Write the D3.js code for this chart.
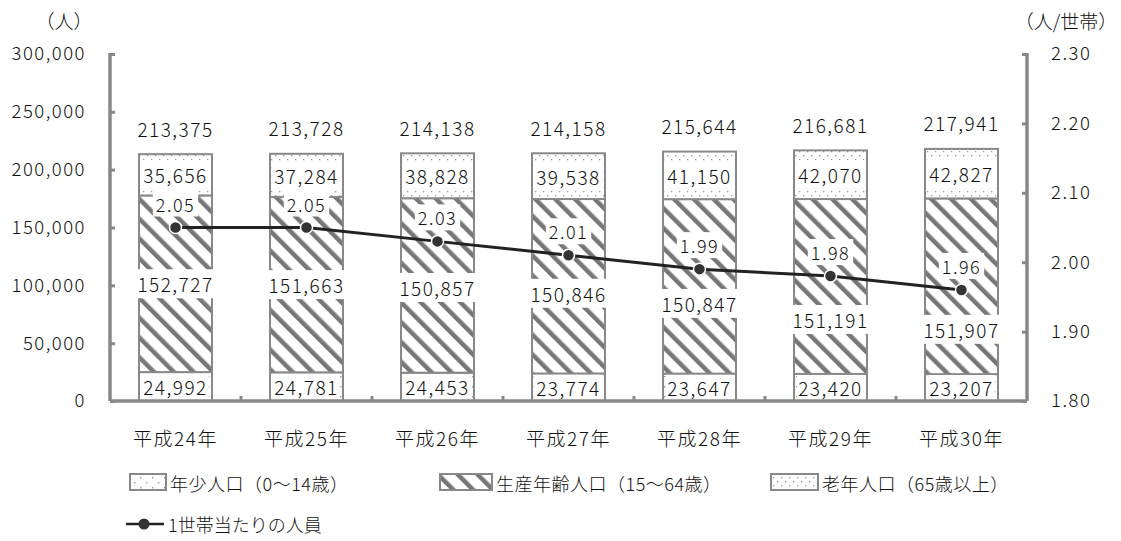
<!DOCTYPE html>
<html>
<head>
<meta charset="utf-8">
<script src="https://cdn.jsdelivr.net/npm/d3@7"></script>
<style>
  body { margin: 0; background: #fff; }
  text { font-family: "Noto Sans CJK JP", "Noto Sans", sans-serif; font-weight: 300; fill: #111; }
</style>
</head>
<body>
<div class="chart"></div>
<script>
// data
var years = ["平成24年", "平成25年", "平成26年", "平成27年", "平成28年", "平成29年", "平成30年"];
var young = [24992, 24781, 24453, 23774, 23647, 23420, 23207];
var working = [152727, 151663, 150857, 150846, 150847, 151191, 151907];
var elderly = [35656, 37284, 38828, 39538, 41150, 42070, 42827];
var totals = [213375, 213728, 214138, 214158, 215644, 216681, 217941];
var perHousehold = [2.05, 2.05, 2.03, 2.01, 1.99, 1.98, 1.96];
var leftTicks = [0, 50000, 100000, 150000, 200000, 250000, 300000];
var rightTicks = [1.8, 1.9, 2.0, 2.1, 2.2, 2.3];

// nudges for the working-age labels so they dodge the line labels
var workLabelShift = [0, 0, 2, 7, 17, 33, 43];

var svgWidth = 1121, svgHeight = 541;
var margin = {top: 54, left: 110, right: 94, bottom: 140};
var width = svgWidth - margin.left - margin.right;
var height = svgHeight - margin.top - margin.bottom;

var svg = d3.select(".chart").append("svg")
    .attr("width", svgWidth)
    .attr("height", svgHeight);

// patterns
var defs = svg.append("defs");

var pYoung = defs.append("pattern").attr("id", "pYoung")
    .attr("patternUnits", "userSpaceOnUse").attr("width", 12).attr("height", 10);
pYoung.append("rect").attr("width", 12).attr("height", 10).attr("fill", "#fff");
pYoung.append("rect").attr("x", 2).attr("y", 2).attr("width", 1.4).attr("height", 1.4).attr("fill", "#999");
pYoung.append("rect").attr("x", 8).attr("y", 7).attr("width", 1.4).attr("height", 1.4).attr("fill", "#999");

var pOld = defs.append("pattern").attr("id", "pOld")
    .attr("patternUnits", "userSpaceOnUse").attr("width", 8).attr("height", 8);
pOld.append("rect").attr("width", 8).attr("height", 8).attr("fill", "#fff");
pOld.append("rect").attr("x", 1).attr("y", 1).attr("width", 1.3).attr("height", 1.3).attr("fill", "#999");
pOld.append("rect").attr("x", 5).attr("y", 5).attr("width", 1.3).attr("height", 1.3).attr("fill", "#999");

var pWork = defs.append("pattern").attr("id", "pWork")
    .attr("patternUnits", "userSpaceOnUse").attr("width", 14).attr("height", 14)
    .attr("patternTransform", "rotate(-45)");
pWork.append("rect").attr("width", 14).attr("height", 14).attr("fill", "#fff");
pWork.append("rect").attr("x", 0).attr("y", 0).attr("width", 4.5).attr("height", 14).attr("fill", "#777");

var g = svg.append("g").attr("transform", `translate(${margin.left}, ${margin.top})`);

// scales
var x = d3.scaleBand().domain(years).range([0, width]).paddingInner(0.443).paddingOuter(0.2215);
var y = d3.scaleLinear().domain([0, 300000]).range([height, 0]);
var y2 = d3.scaleLinear().domain([1.8, 2.3]).range([height, 0]);

var fmt = d3.format(",");
var axisColor = "#888";

// stacked bars
var rows = years.map(function(yr, i) {
    return {year: yr, young: young[i], working: working[i], elderly: elderly[i]};
});
var stack = d3.stack().keys(["young", "working", "elderly"])(rows);
var fills = {young: "url(#pYoung)", working: "url(#pWork)", elderly: "url(#pOld)"};

stack.forEach(function(layer) {
    g.append("g").selectAll("rect")
        .data(layer)
        .enter()
        .append("rect")
        .attr("x", d => x(d.data.year))
        .attr("y", d => y(d[1]))
        .attr("width", x.bandwidth())
        .attr("height", d => y(d[0]) - y(d[1]))
        .attr("fill", fills[layer.key])
        .attr("stroke", axisColor)
        .attr("stroke-width", 2);
});

// label helper with white box
function boxedLabel(parent, cx, cy, txt, size, padX, padY) {
    var t = parent.append("text")
        .attr("x", cx).attr("y", cy)
        .attr("text-anchor", "middle")
        .attr("dominant-baseline", "central")
        .style("font-size", size + "px")
        .style("letter-spacing", "1.5px")
        .text(txt);
    var bb = t.node().getBBox();
    parent.insert("rect", "text:last-of-type")
        .attr("x", bb.x - padX).attr("y", bb.y - padY)
        .attr("width", bb.width + padX * 2).attr("height", bb.height + padY * 2)
        .attr("fill", "#fff");
    return t;
}

var labels = g.append("g");
years.forEach(function(yr, i) {
    var cx = x(yr) + x.bandwidth() / 2;
    var lg = labels.append("g");
    boxedLabel(lg, cx, (y(0) + y(young[i])) / 2, fmt(young[i]), 19, 1, -1);
    var lg2 = labels.append("g");
    boxedLabel(lg2, cx, (y(young[i]) + y(young[i] + working[i])) / 2 + workLabelShift[i], fmt(working[i]), 19, 3, 1);
    var lg3 = labels.append("g");
    boxedLabel(lg3, cx, (y(young[i] + working[i]) + y(totals[i])) / 2, fmt(elderly[i]), 19, 3, 1);
    labels.append("text")
        .attr("x", cx).attr("y", y(totals[i]) - 26)
        .attr("text-anchor", "middle")
        .attr("dominant-baseline", "central")
        .style("font-size", "19px")
        .style("letter-spacing", "1.5px")
        .text(fmt(totals[i]));
});

// line
var line = d3.line()
    .x((d, i) => x(years[i]) + x.bandwidth() / 2)
    .y(d => y2(d));

g.append("path")
    .datum(perHousehold)
    .attr("d", line)
    .attr("fill", "none")
    .attr("stroke", "#222")
    .attr("stroke-width", 3);

g.selectAll(".dot")
    .data(perHousehold)
    .enter()
    .append("circle")
    .attr("class", "dot")
    .attr("cx", (d, i) => x(years[i]) + x.bandwidth() / 2)
    .attr("cy", d => y2(d))
    .attr("r", 6)
    .attr("fill", "#333")
    .attr("stroke", "#fff")
    .attr("stroke-width", 1.5);

perHousehold.forEach(function(v, i) {
    var lg = g.append("g");
    boxedLabel(lg, x(years[i]) + x.bandwidth() / 2, y2(v) - 24, v.toFixed(2), 18, 3, 0);
});

// axes
var leftAxis = d3.axisLeft(y).tickValues(leftTicks).tickFormat(fmt).tickSize(-5).tickPadding(24);
var rightAxis = d3.axisRight(y2).tickValues(rightTicks).tickFormat(d3.format(".2f")).tickSize(-5).tickPadding(24);

var gl = g.append("g").call(leftAxis);
var gr = g.append("g").attr("transform", `translate(${width}, 0)`).call(rightAxis);
[gl, gr].forEach(function(ax) {
    ax.select(".domain").remove();
    ax.selectAll("line").attr("stroke", axisColor).attr("stroke-width", 3);
    ax.selectAll("text").style("font-size", "18.5px").style("letter-spacing", "1.5px").attr("fill", "#111");
});
gl.append("line").attr("x1", 0).attr("x2", 0).attr("y1", -1).attr("y2", height).attr("stroke", axisColor).attr("stroke-width", 3.5);
gr.append("line").attr("x1", 0).attr("x2", 0).attr("y1", -1).attr("y2", height).attr("stroke", axisColor).attr("stroke-width", 3.5);

// x axis baseline with ticks between categories
g.append("line")
    .attr("x1", 0).attr("x2", width)
    .attr("y1", height).attr("y2", height)
    .attr("stroke", axisColor).attr("stroke-width", 3.5);
g.selectAll(".xtick")
    .data(years.slice(1))
    .enter()
    .append("line")
    .attr("x1", d => x(d) - x.step() * x.paddingInner() / 2)
    .attr("x2", d => x(d) - x.step() * x.paddingInner() / 2)
    .attr("y1", height).attr("y2", height - 5)
    .attr("stroke", axisColor).attr("stroke-width", 3);

g.selectAll(".xlabel")
    .data(years)
    .enter()
    .append("text")
    .attr("x", d => x(d) + x.bandwidth() / 2)
    .attr("y", height + 36)
    .attr("text-anchor", "middle")
    .attr("dominant-baseline", "central")
    .style("font-size", "19px")
    .style("letter-spacing", "1.5px")
    .text(d => d);

// axis titles
svg.append("text").attr("x", 64).attr("y", 20).attr("text-anchor", "middle")
    .attr("dominant-baseline", "central").style("font-size", "19px").text("（人）");
svg.append("text").attr("x", 1066).attr("y", 20).attr("text-anchor", "middle")
    .attr("dominant-baseline", "central").style("font-size", "19px").text("（人/世帯）");

// legend
var legendItems = [
    {label: "年少人口（0〜14歳）", fill: "url(#pYoung)", x: 130, w: 36},
    {label: "生産年齢人口（15〜64歳）", fill: "url(#pWork)", x: 440, w: 52},
    {label: "老年人口（65歳以上）", fill: "url(#pOld)", x: 771, w: 47}
];
var legend = svg.append("g");
legendItems.forEach(function(it) {
    legend.append("rect")
        .attr("x", it.x).attr("y", 474).attr("width", it.w).attr("height", 16)
        .attr("fill", it.fill).attr("stroke", axisColor).attr("stroke-width", 2);
    legend.append("text")
        .attr("x", it.x + it.w + 4).attr("y", 483)
        .attr("dominant-baseline", "central")
        .style("font-size", "18px")
        .style("letter-spacing", "0.5px")
        .text(it.label);
});
legend.append("line").attr("x1", 126).attr("x2", 164).attr("y1", 524).attr("y2", 524)
    .attr("stroke", "#222").attr("stroke-width", 2.5);
legend.append("circle").attr("cx", 144).attr("cy", 524).attr("r", 5.5).attr("fill", "#333");
legend.append("text").attr("x", 168).attr("y", 524)
    .attr("dominant-baseline", "central").style("font-size", "18px")
    .text("1世帯当たりの人員");
</script>
</body>
</html>
